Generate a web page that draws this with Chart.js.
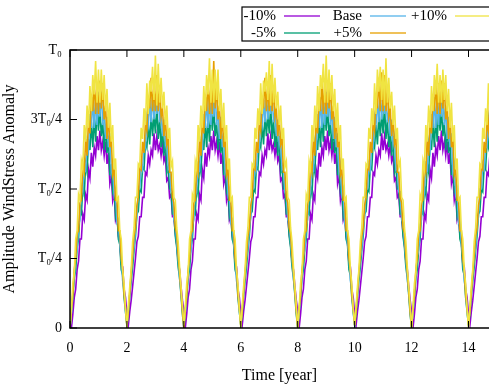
<!DOCTYPE html>
<html>
<head>
<meta charset="utf-8">
<script src="https://cdn.jsdelivr.net/npm/chart.js@4.4.1/dist/chart.umd.min.js"></script>
<style>
  html, body { margin: 0; padding: 0; background: #fff; }
  #wrap { width: 489px; height: 385px; }
</style>
</head>
<body>
<div id="wrap"><canvas id="myChart" width="489" height="385"></canvas></div>
<script>
// amplitude in units of T0, one value every 0.05 year (t = 0 .. 14.8)
// one line per 2-year cycle
const minus10 = [
  0, 0, .05, .11, .14, .21, .24, .32, .32, .41, .39, .48, .46, .57, .54, .63, .58, .65, .62, .69, .64, .71, .64, .67, .62, .67, .59, .63, .52, .55, .46, .49, .39, .41, .33, .31, .23, .22, .14, .11,
  .05, .01, .06, .10, .15, .20, .25, .31, .33, .40, .40, .47, .47, .56, .55, .62, .59, .64, .62, .70, .64, .69, .64, .66, .62, .66, .60, .62, .53, .54, .47, .48, .40, .40, .34, .30, .24, .21, .15, .10,
  .06, 0, .05, .11, .14, .21, .24, .32, .32, .41, .39, .48, .46, .57, .54, .63, .58, .65, .62, .69, .64, .71, .64, .67, .62, .67, .59, .63, .52, .55, .46, .49, .39, .41, .33, .31, .23, .22, .14, .11,
  .05, .01, .06, .10, .15, .20, .25, .31, .33, .40, .40, .47, .47, .56, .55, .62, .59, .64, .62, .70, .64, .69, .64, .66, .62, .66, .60, .62, .53, .54, .47, .48, .40, .40, .34, .30, .24, .21, .15, .10,
  .06, 0, .05, .11, .14, .21, .24, .32, .32, .41, .39, .48, .46, .57, .54, .63, .58, .65, .62, .69, .64, .71, .64, .67, .62, .67, .59, .63, .52, .55, .46, .49, .39, .41, .33, .31, .23, .22, .14, .11,
  .05, .01, .06, .10, .15, .20, .25, .31, .33, .40, .40, .47, .47, .56, .55, .62, .59, .64, .62, .70, .64, .69, .64, .66, .62, .66, .60, .62, .53, .54, .47, .48, .40, .40, .34, .30, .24, .21, .15, .10,
  .06, 0, .05, .11, .14, .21, .24, .32, .32, .41, .39, .48, .46, .57, .54, .63, .58, .65, .62, .69, .64, .71, .64, .67, .62, .67, .59, .63, .52, .55, .46, .49, .39, .41, .33, .31, .23, .22, .14, .11,
  .05, .01, .06, .10, .15, .20, .25, .31, .33, .40, .40, .47, .47, .56, .55, .62, .59
]
const minus5 = [
  0, .06, .11, .18, .21, .29, .32, .42, .41, .51, .48, .59, .56, .68, .64, .74, .65, .76, .67, .79, .71, .79, .69, .74, .64, .73, .63, .68, .55, .59, .49, .51, .40, .42, .32, .30, .21, .19, .11, .06,
  .01, .05, .12, .17, .22, .28, .33, .41, .42, .50, .49, .58, .57, .67, .65, .73, .66, .77, .69, .77, .70, .80, .68, .75, .65, .72, .62, .69, .56, .58, .50, .50, .41, .41, .33, .29, .22, .18, .12, .05,
  0, .06, .11, .18, .21, .29, .32, .42, .41, .51, .48, .59, .56, .68, .64, .74, .65, .76, .67, .79, .71, .79, .69, .74, .64, .73, .63, .68, .55, .59, .49, .51, .40, .42, .32, .30, .21, .19, .11, .06,
  .01, .05, .12, .17, .22, .28, .33, .41, .42, .50, .49, .58, .57, .67, .65, .73, .66, .77, .69, .77, .70, .80, .68, .75, .65, .72, .62, .69, .56, .58, .50, .50, .41, .41, .33, .29, .22, .18, .12, .05,
  0, .06, .11, .18, .21, .29, .32, .42, .41, .51, .48, .59, .56, .68, .64, .74, .65, .76, .67, .79, .71, .79, .69, .74, .64, .73, .63, .68, .55, .59, .49, .51, .40, .42, .32, .30, .21, .19, .11, .06,
  .01, .05, .12, .17, .22, .28, .33, .41, .42, .50, .49, .58, .57, .67, .65, .73, .66, .77, .69, .77, .70, .80, .68, .75, .65, .72, .62, .69, .56, .58, .50, .50, .41, .41, .33, .29, .22, .18, .12, .05,
  0, .06, .11, .18, .21, .29, .32, .42, .41, .51, .48, .59, .56, .68, .64, .74, .65, .76, .67, .79, .71, .79, .69, .74, .64, .73, .63, .68, .55, .59, .49, .51, .40, .42, .32, .30, .21, .19, .11, .06,
  .01, .05, .12, .17, .22, .28, .33, .41, .42, .50, .49, .58, .57, .67, .65, .73, .66
]
const base = [
  0, .06, .13, .18, .26, .28, .37, .39, .51, .49, .60, .56, .67, .64, .77, .72, .83, .72, .83, .73, .85, .76, .85, .73, .79, .68, .76, .65, .70, .56, .59, .48, .50, .38, .39, .30, .26, .17, .14, .06,
  .01, .07, .12, .19, .25, .29, .36, .40, .50, .50, .59, .57, .66, .65, .76, .73, .82, .74, .84, .75, .83, .77, .84, .74, .78, .69, .75, .66, .69, .57, .58, .49, .49, .39, .38, .31, .25, .18, .13, .07,
  0, .06, .13, .18, .26, .28, .37, .39, .51, .49, .60, .56, .67, .64, .77, .72, .83, .72, .83, .73, .85, .76, .85, .73, .79, .68, .76, .65, .70, .56, .59, .48, .50, .38, .39, .30, .26, .17, .14, .06,
  .01, .07, .12, .19, .25, .29, .36, .40, .50, .50, .59, .57, .66, .65, .76, .73, .82, .74, .84, .75, .83, .77, .84, .74, .78, .69, .75, .66, .69, .57, .58, .49, .49, .39, .38, .31, .25, .18, .13, .07,
  0, .06, .13, .18, .26, .28, .37, .39, .51, .49, .60, .56, .67, .64, .77, .72, .83, .72, .83, .73, .85, .76, .85, .73, .79, .68, .76, .65, .70, .56, .59, .48, .50, .38, .39, .30, .26, .17, .14, .06,
  .01, .07, .12, .19, .25, .29, .36, .40, .50, .50, .59, .57, .66, .65, .76, .73, .82, .74, .84, .75, .83, .77, .84, .74, .78, .69, .75, .66, .69, .57, .58, .49, .49, .39, .38, .31, .25, .18, .13, .07,
  0, .06, .13, .18, .26, .28, .37, .39, .51, .49, .60, .56, .67, .64, .77, .72, .83, .72, .83, .73, .85, .76, .85, .73, .79, .68, .76, .65, .70, .56, .59, .48, .50, .38, .39, .30, .26, .17, .14, .06,
  .01, .07, .12, .19, .25, .29, .36, .40, .50, .50, .59, .57, .66, .65, .76, .73, .82
]
const plus5 = [
  0, .07, .12, .21, .25, .34, .35, .45, .46, .59, .56, .68, .62, .75, .70, .84, .78, .89, .77, .88, .77, .89, .79, .88, .75, .80, .68, .77, .65, .69, .55, .57, .46, .46, .35, .35, .25, .21, .12, .07,
  .01, .06, .13, .20, .26, .33, .36, .44, .47, .58, .57, .67, .63, .74, .71, .83, .79, .90, .78, .87, .78, .91, .78, .87, .76, .79, .69, .76, .66, .68, .56, .56, .47, .45, .36, .34, .26, .20, .13, .06,
  0, .07, .12, .21, .25, .34, .35, .45, .46, .59, .56, .68, .62, .75, .70, .84, .78, .89, .77, .88, .77, .96, .79, .88, .75, .80, .68, .77, .65, .69, .55, .57, .46, .46, .35, .35, .25, .21, .12, .07,
  .01, .06, .13, .20, .26, .33, .36, .44, .47, .58, .57, .67, .63, .74, .71, .83, .79, .90, .78, .87, .78, .91, .78, .87, .76, .79, .69, .76, .66, .68, .56, .56, .47, .45, .36, .34, .26, .20, .13, .06,
  0, .07, .12, .21, .25, .34, .35, .45, .46, .59, .56, .68, .62, .75, .70, .84, .78, .89, .77, .88, .77, .89, .79, .88, .75, .80, .68, .77, .65, .69, .55, .57, .46, .46, .35, .35, .25, .21, .12, .07,
  .01, .06, .13, .20, .26, .33, .36, .44, .47, .58, .57, .67, .63, .74, .71, .83, .79, .90, .78, .92, .78, .91, .78, .87, .76, .79, .69, .76, .66, .68, .56, .56, .47, .45, .36, .34, .26, .20, .13, .06,
  0, .07, .12, .21, .25, .34, .35, .45, .46, .59, .56, .68, .62, .75, .70, .84, .78, .89, .77, .88, .77, .89, .79, .88, .75, .80, .68, .77, .65, .69, .55, .57, .46, .46, .35, .35, .25, .21, .12, .07,
  .01, .06, .13, .20, .26, .33, .36, .44, .47, .58, .57, .67, .63, .74, .71, .83, .79
]
const plus10 = [
  0, .07, .16, .20, .32, .35, .48, .46, .60, .57, .73, .67, .80, .72, .87, .78, .91, .84, .96, .81, .93, .81, .93, .82, .91, .78, .86, .72, .81, .67, .73, .57, .61, .46, .47, .35, .32, .21, .16, .07,
  0, .08, .15, .21, .31, .36, .47, .47, .59, .58, .72, .68, .79, .73, .88, .77, .89, .85, .94, .82, .98, .80, .95, .81, .90, .79, .85, .73, .80, .68, .72, .58, .60, .47, .46, .36, .31, .22, .15, .08,
  .01, .07, .16, .20, .32, .35, .48, .46, .60, .57, .73, .67, .80, .72, .87, .78, .91, .84, .97, .81, .93, .81, .93, .82, .93, .78, .86, .72, .81, .67, .73, .57, .61, .46, .47, .35, .32, .21, .16, .07,
  0, .08, .15, .21, .31, .36, .47, .47, .59, .58, .72, .68, .79, .73, .88, .77, .89, .85, .92, .82, .96, .80, .95, .81, .90, .79, .85, .73, .80, .68, .72, .58, .60, .47, .46, .36, .31, .22, .15, .08,
  0, .07, .16, .20, .32, .35, .48, .46, .60, .57, .73, .67, .80, .72, .87, .78, .91, .86, .95, .81, .98, .81, .93, .82, .91, .78, .86, .72, .81, .67, .73, .57, .61, .46, .47, .35, .32, .21, .16, .07,
  .01, .08, .15, .21, .31, .36, .47, .47, .59, .58, .72, .68, .79, .73, .88, .77, .93, .85, .94, .82, .93, .80, .97, .81, .90, .79, .85, .73, .80, .68, .72, .58, .60, .47, .46, .36, .31, .22, .15, .08,
  0, .07, .16, .20, .32, .35, .48, .46, .60, .57, .73, .67, .80, .72, .87, .78, .91, .84, .95, .81, .91, .81, .93, .82, .91, .78, .86, .72, .81, .67, .73, .57, .61, .46, .47, .35, .32, .21, .16, .07,
  0, .08, .15, .21, .31, .36, .47, .47, .59, .58, .72, .68, .79, .73, .88, .77, .89
]
const tStep = 0.05
const times = plus10.map((_, i) => Math.round(i * tStep * 100) / 100)

const seriesNames = ['-10%', '-5%', 'Base', '+5%', '+10%']
const seriesValues = [minus10, minus5, base, plus5, plus10]
const seriesColors = ['#9400D3', '#009E73', '#56B4E9', '#E69F00', '#F0E442']

const yTickValues = [0, 0.25, 0.5, 0.75, 1]
const yTickLabels = ['0', 'T₀/4', 'T₀/2', '3T₀/4', 'T₀']
const xTickValues = [0, 2, 4, 6, 8, 10, 12, 14]

const FONT = '"Liberation Serif", "Times New Roman", serif'

// gnuplot-like frame: border on left/bottom/top, ticks pointing inward
const framePlugin = {
  id: 'frame',
  afterDatasetsDraw(chart) {
    const c = chart.ctx, a = chart.chartArea
    const xs = chart.scales.x, ys = chart.scales.y
    c.save()
    c.strokeStyle = '#000'
    c.lineWidth = 1.5
    c.beginPath()
    c.moveTo(chart.width + 2, a.top); c.lineTo(a.left, a.top)
    c.lineTo(a.left, a.bottom); c.lineTo(chart.width + 2, a.bottom)
    c.stroke()
    c.lineWidth = 1
    c.beginPath()
    yTickValues.forEach(v => {
      const y = ys.getPixelForValue(v)
      c.moveTo(a.left, y); c.lineTo(a.left + 7, y)
    })
    xTickValues.forEach(v => {
      const x = xs.getPixelForValue(v)
      c.moveTo(x, a.bottom); c.lineTo(x, a.bottom - 7)
      c.moveTo(x, a.top); c.lineTo(x, a.top + 7)
    })
    c.stroke()
    c.restore()
  }
}

// key box at the top right: text first, then a line sample
const keyPlugin = {
  id: 'key',
  afterDraw(chart) {
    const c = chart.ctx
    c.save()
    c.fillStyle = '#fff'
    c.fillRect(242, 7, 260, 34)
    c.strokeStyle = '#000'
    c.lineWidth = 1.2
    c.strokeRect(242, 7, 260, 34)
    c.font = '15px ' + FONT
    c.textAlign = 'right'
    c.textBaseline = 'middle'
    const slots = [[276, 16], [276, 33], [362, 16], [362, 33], [447, 16]]
    seriesNames.forEach((name, k) => {
      const [tx, ty] = slots[k]
      c.fillStyle = '#000'
      c.fillText(name, tx, ty)
      c.strokeStyle = seriesColors[k]
      c.globalAlpha = 0.65
      c.lineWidth = 2
      c.beginPath()
      c.moveTo(tx + 8, ty); c.lineTo(tx + 44, ty)
      c.stroke()
      c.globalAlpha = 1
    })
    c.restore()
  }
}

const ctx = document.getElementById('myChart').getContext('2d')
const myChart = new Chart(ctx, {
  type: 'line',
  data: {
    datasets: seriesValues.map((vals, k) => ({
      label: seriesNames[k],
      data: times.map((t, i) => ({ x: t, y: vals[i] })),
      borderColor: seriesColors[k],
      backgroundColor: seriesColors[k],
      borderWidth: 1.6,
      pointRadius: 0,
      tension: 0,
      order: 5 - k   // +10% ends up drawn last, on top
    }))
  },
  options: {
    responsive: false,
    animation: false,
    devicePixelRatio: 1,
    layout: { padding: { top: 50, right: 0, left: 0, bottom: 0 } },
    plugins: { legend: { display: false }, tooltip: { enabled: false } },
    scales: {
      x: {
        type: 'linear',
        min: 0,
        max: 14.72,
        afterFit: s => { s.height = 57 },
        afterBuildTicks: s => { s.ticks = xTickValues.map(v => ({ value: v })) },
        grid: { display: false, drawTicks: false },
        border: { display: false },
        ticks: { color: '#000', padding: 12, font: { family: FONT, size: 14 } },
        title: {
          display: true, text: 'Time [year]', color: '#000',
          font: { family: FONT, size: 16 }, padding: { top: 4, bottom: 0 }
        }
      },
      y: {
        min: 0,
        max: 1,
        afterFit: s => { s.width = 70 },
        afterBuildTicks: s => { s.ticks = yTickValues.map(v => ({ value: v })) },
        grid: { display: false, drawTicks: false },
        border: { display: false },
        ticks: {
          color: '#000', padding: 8, font: { family: FONT, size: 14 },
          callback: (v, i) => yTickLabels[i]
        },
        title: {
          display: true, text: 'Amplitude WindStress Anomaly', color: '#000',
          font: { family: FONT, size: 16 }, padding: { top: 0, bottom: 0 }
        }
      }
    }
  },
  plugins: [framePlugin, keyPlugin]
})
</script>
</body>
</html>
